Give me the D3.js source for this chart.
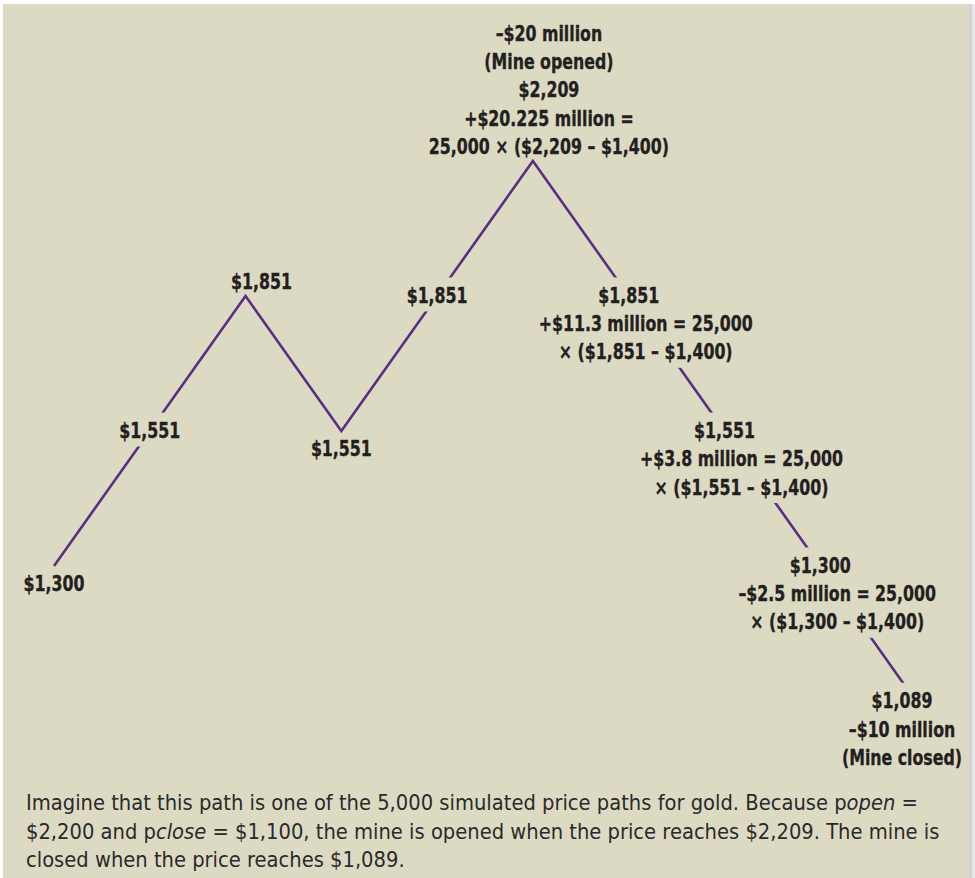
<!DOCTYPE html>
<html><head><meta charset="utf-8">
<script src="https://cdn.jsdelivr.net/npm/d3@7"></script>
<style>
html,body{margin:0;padding:0;background:#fff;}
svg{display:block;}
</style></head>
<body>
<svg id="chart" width="975" height="878"></svg>
<script>
// ---------- data ----------
const steps = [0, 1, 2, 3, 4, 5, 6, 7, 8, 9];
const prices = [1300, 1551, 1851, 1551, 1851, 2209, 1851, 1551, 1300, 1089];
const strikePrice = 1400;
const ounces = 25000;
const cashFlowMillions = [null, null, null, null, null, 20.225, 11.3, 3.8, -2.5, null];
const eventNotes = [null, null, null, null, null,
  ["–$20 million", "(Mine opened)"], null, null, null,
  ["–$10 million", "(Mine closed)"]];
const captionLines = [
  [["Imagine that this path is one of the 5,000 simulated price paths for gold. Because p", false], ["open", true], [" =", false]],
  [["$2,200 and p", false], ["close", true], [" = $1,100, the mine is opened when the price reaches $2,209. The mine is", false]],
  [["closed when the price reaches $1,089.", false]]
];

// ---------- layout ----------
const W = 975, H = 878;
const BG = "#dddac4", INK = "#231f20", LINE = "#5b2e83";
const fontFam = "'DejaVu Sans Condensed','DejaVu Sans',sans-serif";
const svg = d3.select("#chart");

svg.append("rect").attr("width", W).attr("height", H).attr("fill", "#fff");
svg.append("rect").attr("x", 3).attr("y", 4).attr("width", 966).attr("height", H - 4).attr("fill", BG);
svg.append("rect").attr("x", 969).attr("y", 4).attr("width", 3).attr("height", H - 4).attr("fill", "#d2d2d6");
svg.append("rect").attr("x", 972).attr("y", 4).attr("width", 3).attr("height", H - 4).attr("fill", "#e6e6e8");

const x = d3.scaleLinear().domain([0, 9]).range([54, 916]);
const y = d3.scaleLog().domain([1300, 1851]).range([566, 296]);

const money = p => "$" + d3.format(",")(p);
const placement = ["below", "on", "above", "below", "on", "above", "on", "on", "on", "on"];
const FS = 21, LH = 28.2, SIDE = 17;

// horizontal condensing factors so the fallback font matches the narrow face's widths
function measure(txt, size, weight) {
  const t = svg.append("text").attr("font-family", fontFam).attr("font-size", size)
    .attr("font-weight", weight).text(txt);
  const w = t.node().getComputedTextLength();
  t.remove();
  return w;
}
const kBold = 214 / measure("+$11.3 million = 25,000", FS, "bold");
const CAP_FS = 21;
const kCap = 892 / measure(captionLines[0].map(d => d[0]).join(""), CAP_FS, "normal");

// build text blocks
const blocks = steps.map((s, i) => {
  const p = prices[i];
  const cf = cashFlowMillions[i];
  const lines = [];
  const cfText = cf == null ? null : (cf < 0 ? "–" : "+") + "$" + Math.abs(cf) + " million";
  const formula = "× (" + money(p) + " – " + money(strikePrice) + ")";
  if (placement[i] === "above") {
    if (eventNotes[i]) eventNotes[i].forEach(t => lines.push({t, dx: 16}));
    lines.push({t: money(p), dx: 16});
    if (cf != null) {
      lines.push({t: cfText + " =", dx: 16});
      lines.push({t: d3.format(",")(ounces) + "  " + formula, dx: 16});
    }
  } else {
    const base = i === steps.length - 1 ? -14 : 0;
    lines.push({t: money(p), dx: base});
    if (cf != null) {
      lines.push({t: cfText + " = " + d3.format(",")(ounces), dx: SIDE});
      lines.push({t: formula, dx: SIDE});
    }
    if (eventNotes[i]) eventNotes[i].forEach(t => lines.push({t, dx: base}));
  }
  const vx = x(s), vy = y(p);
  let base0;
  if (placement[i] === "above") base0 = vy - 7 - (lines.length - 1) * LH;
  else if (placement[i] === "below") base0 = vy + 25;
  else base0 = vy + 7;
  return {i, vx, vy, lines, base0, place: placement[i]};
});

// path
const line = d3.line().x(d => x(d.s)).y(d => y(d.p));
svg.append("path")
  .datum(steps.map((s, i) => ({s, p: prices[i]})))
  .attr("d", line)
  .attr("fill", "none")
  .attr("stroke", LINE)
  .attr("stroke-width", 2.6)
  .attr("stroke-linejoin", "miter");

const maskLayer = svg.append("g");
const textLayer = svg.append("g");

blocks.forEach(b => {
  const g = textLayer.append("g");
  b.lines.forEach((ln, k) => {
    g.append("text")
      .attr("transform", `translate(${b.vx + ln.dx},${b.base0 + k * LH}) scale(${kBold},1)`)
      .attr("text-anchor", "middle")
      .attr("font-family", fontFam)
      .attr("font-weight", "bold")
      .attr("font-size", FS)
      .attr("fill", INK)
      .attr("stroke", INK)
      .attr("stroke-width", 0.35)
      .text(ln.t);
  });
  if (b.place === "on") {
    const bb = g.node().getBBox();
    maskLayer.append("rect")
      .attr("x", bb.x - 4).attr("y", bb.y - 6)
      .attr("width", bb.width + 8).attr("height", bb.height + 9)
      .attr("fill", BG);
  }
});

// caption
const cap = svg.append("g");
captionLines.forEach((segs, k) => {
  const t = cap.append("text")
    .attr("transform", `translate(26,${810 + k * 28.5}) scale(${kCap},1)`)
    .attr("font-family", fontFam)
    .attr("font-size", CAP_FS)
    .attr("fill", "#2a2a2a");
  segs.forEach(([txt, it]) => {
    t.append("tspan").attr("font-style", it ? "italic" : "normal").text(txt);
  });
});
</script>
</body></html>
